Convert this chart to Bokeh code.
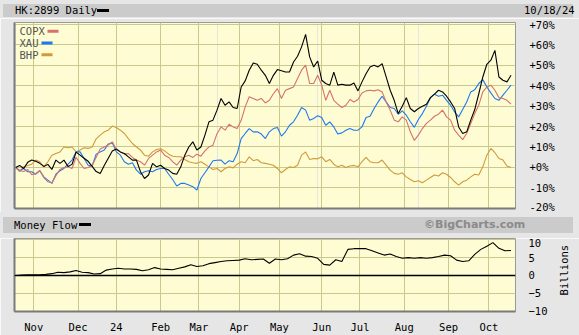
import pandas as pd
import math
from bokeh.plotting import figure
from bokeh.models import (FixedTicker, Range1d, Span, Label, BoxAnnotation, Grid, Div, LinearAxis)
from bokeh.layouts import column
from bokeh.embed import file_html
from bokeh.resources import INLINE

# ---------------- data ----------------
HK_HOLIDAYS = ["2023-10-23", "2023-12-25", "2023-12-26", "2024-01-01", "2024-02-12",
               "2024-02-13", "2024-03-29", "2024-04-01", "2024-04-04", "2024-05-01",
               "2024-05-15", "2024-06-10", "2024-07-01", "2024-09-18", "2024-10-01",
               "2024-10-11"]
START, END = "2023-10-18", "2024-10-18"
MONTH_LABELS = ["Nov", "Dec", "24", "Feb", "Mar", "Apr", "May", "Jun", "Jul", "Aug", "Sep", "Oct"]
PCT_TICKS = [-20, -10, 0, 10, 20, 30, 40, 50, 60, 70]
MF_TICKS = [-10, -5, 0, 5, 10]
MF_UNIT = "Billions"

STEP_MAIN = 2   # one value every 2 trading days
STEP_MF = 3     # one value every 3 trading days

hk2899 = [0, 1, -0.5, 2.5, 3.6, 3, 2, 0.5, 1.5, -1,
          3.6, 2, 3.6, 0.5, 1.5, 7.5, 6, 4.5, 3, 0.5,
          -2, -3, 1, 4.5, 8, 9, 7.6, 6.8, 5.2, 3.6,
          3.6, -2.1, -5.4, -3.7, 2, 0.3, 1.1, -0.5, -1.3, -2.9,
          -3.3, 0.3, 6, 10, 12.5, 8.5, 10, 15.8, 22.3, 23.1,
          28, 33.7, 30.4, 32, 29.3, 28.8, 39.3, 42.3, 47.5, 51,
          50.4, 47.5, 45, 41, 45, 47.8, 47.2, 46.6, 46.6, 51.5,
          54.3, 58.9, 65, 54, 49.1, 52, 42.6, 41, 40.2, 46.6,
          40.2, 40.6, 40.2, 40.2, 41.3, 37.4, 41.8, 45.8, 49.1, 49.9,
          49.1, 50.7, 44.2, 37.7, 32.8, 26.3, 29.9, 34.1, 28.8, 27.2,
          28.8, 29.9, 30.9, 34.1, 35.8, 37.7, 36.9, 34.8, 32, 28.8,
          19.8, 16.6, 17.4, 23.1, 28.3, 36, 44.2, 50.4, 52.4, 57.2,
          44.2, 42.6, 41.8, 45]

copx = [0, -1.5, -2, -1, -3.5, -3, -1.5, -5, -7, -7.5,
        -4, -1, 0, 0.3, -0.5, 5, 2, -0.5, 0, 1,
        5, 9, 10, 11, 12.5, 8.8, 7.6, 6.5, 6.8, 4.9,
        3.6, 2.8, 1.1, 4.4, 6, 7.6, 8.5, 6, 4.9, 2.8,
        1.1, 3.6, 5.2, 6, 4.9, 6.5, 5.5, 8.1, 10, 10.9,
        16.5, 19.8, 18.2, 21.1, 19.8, 19, 23, 29.6, 34.5, 33.7,
        32.8, 33.7, 31.5, 32.8, 36, 38.5, 33.7, 37.7, 38.5, 39.3,
        43.4, 47.5, 50, 41, 41, 45, 40.2, 32.8, 37.7, 32.8,
        30.9, 29.3, 30.4, 33.2, 32, 33.2, 36.4, 37.4, 37.7, 37.4,
        38, 36.9, 32, 28, 23.1, 22.3, 24.7, 23.1, 17.4, 13.2,
        15.8, 19, 21.5, 23.1, 25, 26, 28, 24.7, 23.1, 18.2,
        15.8, 13.6, 16.6, 21.5, 26.3, 30.4, 36.9, 39.3, 40.2, 37.7,
        34.1, 33.7, 32.8, 30.9]

xau = [0, -1.6, -0.5, -2.1, -2.1, -3.3, -1.6, -4.6, -6.2, -7.8,
       -3.3, -1.6, -0.5, 1.6, 3.6, 7.6, 7.6, 4.4, 1.1, 0.7,
       6.5, 7.6, 8.5, 11.4, 12, 7.6, 6, 2.8, 1.6, 2.3,
       -1.3, -3.3, -2.1, -1.6, -2.1, -1, -0.5, -0.5, -3.3, -5.9,
       -9.1, -7.8, -7.8, -8.6, -9.4, -11.1, -5.4, -2.6, 0.3, 3.3,
       3.5, 3.6, 1.6, 3.3, 2.8, 6.8, 14.1, 16.6, 19, 17.4,
       17.4, 16.3, 14.1, 17.4, 19, 19.5, 15.3, 17.4, 20.6, 22.3,
       25.5, 29.3, 28, 23.1, 23.9, 25.3, 24.4, 20.6, 22.3, 19.8,
       16.3, 16.9, 18.2, 19, 18.2, 18.2, 19.8, 24.4, 25, 28.8,
       32, 34.8, 32, 29.3, 28.8, 26, 27.6, 25.5, 22.3, 19.6,
       23.4, 26.3, 29.9, 34.1, 35.8, 34.8, 35.3, 32.8, 30.4, 27.1,
       24.7, 28.3, 32, 36.9, 38, 41, 42.9, 39.3, 36.4, 33.7,
       32.8, 35.3, 37.7, 40.2]

bhp = [0, -2, 0.3, 1, 1.6, 3.6, 2.8, 0.3, 2.8, 6,
       6.8, 7.6, 10, 9.6, 10, 7.6, 8.5, 9.6, 9.3, 10,
       14, 15.8, 17.4, 18.2, 20.2, 19.5, 18.2, 16.6, 14.1, 11.7,
       10, 8.5, 6, 5.5, 7.6, 8.8, 9.1, 8.1, 6.5, 5.5,
       5.2, 5.2, 3.9, 2.8, 2.3, 2, 2.8, 1.6, 0.3, -1,
       -0.5, -2.1, -0.5, 0.3, -0.2, 1.6, 2.8, 2.3, 5.2, 3.3,
       3.9, 2.3, 2, 1.6, 1.1, -0.5, -2.6, -1, 0.3, 0,
       1.1, 6, 7.6, 3.9, 4.4, 4.2, 5.2, 2.8, 3.9, 1.6,
       0.3, 1.1, 0, 0.7, 1, 0.3, 2.8, 4.9, 2.8, 2.3,
       2.3, 3.6, 1.1, -1.3, -2.9, -3.3, -2.6, -4.6, -5.9, -7,
       -6.5, -7.5, -6.2, -4.9, -3.7, -4.2, -2.6, -3.3, -4.9, -7,
       -8.6, -7, -6.2, -4.6, -3.3, -3.7, 0.3, 6, 9.3, 7.2,
       4.4, 3.6, 0.7, 0]

money_flow = [0, 0.1, 0.2, 0.2, 0.2, 0.3, 0.5, 0.9, 0.8, 1.0,
              1.4, 0.9, 0.8, 0.4, 0.5, 1.5, 1.8, 2.0, 1.8, 1.8,
              1.7, 1.3, 1.6, 2.2, 1.8, 1.7, 1.6, 2.0, 2.4, 3.0,
              2.5, 2.7, 3.3, 3.6, 3.9, 4.1, 4.2, 4.3, 4.7, 4.4,
              4.5, 4.6, 3.4, 4.6, 4.4, 4.7, 5.7, 6.1, 5.4, 5.3,
              4.8, 3.1, 2.9, 4.4, 3.9, 7.3, 7.5, 7.5, 7.5, 6.9,
              6.3, 5.7, 6.0, 5.3, 4.8, 5.0, 4.8, 5.0, 4.8, 5.0,
              5.3, 5.7, 5.5, 4.3, 3.9, 4.1, 5.9, 7.3, 8.2, 9.2,
              7.6, 6.9, 7.0]

# ---------------- trading calendar / ticks ----------------
days = pd.bdate_range(START, END, freq="C", holidays=HK_HOLIDAYS)
first_idx = {}
for i, d in enumerate(days):
    first_idx.setdefault((d.year, d.month), i)
month_ticks = [first_idx[k] for k in sorted(first_idx)][1:]
month_over = {t: lab for t, lab in zip(month_ticks, MONTH_LABELS)}

x_main = list(range(0, STEP_MAIN * len(hk2899), STEP_MAIN))
x_mf = list(range(0, STEP_MF * len(money_flow), STEP_MF))

# ---------------- style ----------------
W = 579
MONO = "DejaVu Sans Mono"
OUTER = "#e6e6e6"
BAND = "#cbcbcb"
PLOT_BG = "#fdfcd3"
GRID = "#cac88f"
EDGE = "#7a7a7a"
C_COPX = "#d6726c"
C_XAU = "#1e78f0"
C_BHP = "#d09a3a"

x_range = Range1d(-0.565, len(days) + 1.23)

TXT = "position:absolute;font-family:'DejaVu Sans Mono';font-size:10.5px;color:#000;white-space:nowrap;"


def header(h, band_top, band_h, items):
    inner = "".join(items)
    html = (f"<div style=\"position:relative;width:{W}px;height:{h}px;background:{OUTER};overflow:hidden;margin:0;padding:0;\">"
            f"<div style=\"position:absolute;left:3px;top:{band_top}px;width:570px;height:{band_h}px;background:{BAND};\"></div>"
            f"{inner}</div>")
    return Div(text=html, width=W, height=h, margin=0)


def edge_axis(fig, side):
    ax = LinearAxis(ticker=FixedTicker(ticks=[]), axis_line_color=EDGE, axis_line_width=2,
                    major_tick_line_color=None, minor_tick_line_color=None,
                    major_label_text_font_size="0px", major_label_standoff=0)
    fig.add_layout(ax, side)
    return ax


hdr1 = header(18, 4, 13, [
    f"<span style=\"{TXT}left:15px;top:4px;height:13px;line-height:13px;\">HK:2899 Daily</span>",
    "<div style=\"position:absolute;left:97px;top:9px;width:12px;height:3px;background:#000;\"></div>",
    f"<span style=\"{TXT}left:524px;top:4px;height:13px;line-height:13px;\">10/18/24</span>",
])

hdr2 = header(26, 5, 16, [
    f"<span style=\"{TXT}left:14px;top:5px;height:16px;line-height:16px;\">Money Flow</span>",
    "<div style=\"position:absolute;left:79px;top:11px;width:12px;height:3px;background:#000;\"></div>",
    "<span style=\"position:absolute;left:424px;top:5px;height:16px;line-height:16px;"
    "font-family:'DejaVu Sans';font-weight:bold;font-size:11px;color:#8a8a8a;white-space:nowrap;\">©BigCharts.com</span>",
])

# main chart
main = figure(width=W, height=194, title=None, toolbar_location=None, output_backend="svg",
              x_range=x_range, y_range=Range1d(-20.05, 70.8),
              x_axis_location=None, y_axis_location="right",
              min_border_left=14, min_border_right=63, min_border_top=4, min_border_bottom=4)
main.background_fill_color = PLOT_BG
main.border_fill_color = OUTER
main.outline_line_color = "#9a9a9a"
ya = main.yaxis[0]
ya.ticker = FixedTicker(ticks=PCT_TICKS)
ya.major_label_overrides = {t: (f"+{t}%" if t >= 0 else f"{t}%") for t in PCT_TICKS}
ya.major_label_text_font = MONO
ya.major_label_text_font_size = "10.5px"
ya.major_label_text_color = "black"
ya.major_label_standoff = 8
ya.major_tick_line_color = None
ya.minor_tick_line_color = None
ya.axis_line_color = None
main.ygrid.ticker = FixedTicker(ticks=PCT_TICKS)
main.ygrid.grid_line_color = GRID
main.add_layout(Grid(dimension=0, ticker=FixedTicker(ticks=month_ticks), grid_line_color=GRID))
edge_axis(main, "below")
edge_axis(main, "left")

main.line(x_main, bhp, line_color=C_BHP, line_width=1.1)
main.line(x_main, xau, line_color=C_XAU, line_width=1.1)
main.line(x_main, copx, line_color=C_COPX, line_width=1.1)
main.line(x_main, hk2899, line_color="black", line_width=1.1)

LEG = [("COPX", C_COPX, 177.3, 33), ("XAU", C_XAU, 165.5, 27), ("BHP", C_BHP, 153.7, 27)]
for name, col, yy, sx in LEG:
    main.add_layout(Label(x=5, y=yy, x_units="screen", y_units="screen", text=name,
                          text_font=MONO, text_font_size="10.5px", text_color="#555555",
                          text_baseline="middle"))
    main.add_layout(BoxAnnotation(left=sx, right=sx + 11, bottom=yy - 1.5, top=yy + 1.5,
                                  left_units="screen", right_units="screen",
                                  bottom_units="screen", top_units="screen",
                                  fill_color=col, fill_alpha=1, line_color=None))

# money flow chart
mf = figure(width=W, height=97, title=None, toolbar_location=None, output_backend="svg",
            x_range=x_range, y_range=Range1d(-10.1, 10.35),
            x_axis_location="below", y_axis_location="right",
            min_border_left=14, min_border_right=63, min_border_top=0, min_border_bottom=18)
mf.background_fill_color = PLOT_BG
mf.border_fill_color = OUTER
mf.outline_line_color = "#9a9a9a"
xa = mf.xaxis[0]
xa.ticker = FixedTicker(ticks=month_ticks)
xa.major_label_overrides = month_over
xa.major_label_text_font = MONO
xa.major_label_text_font_size = "10.5px"
xa.major_label_text_color = "black"
xa.major_label_standoff = 3
xa.major_tick_line_color = None
xa.minor_tick_line_color = None
xa.axis_line_color = EDGE
xa.axis_line_width = 2
ya2 = mf.yaxis[0]
ya2.ticker = FixedTicker(ticks=MF_TICKS)
ya2.major_label_text_font = MONO
ya2.major_label_text_font_size = "10.5px"
ya2.major_label_text_color = "black"
ya2.major_label_standoff = 7
ya2.major_tick_line_color = None
ya2.minor_tick_line_color = None
ya2.axis_line_color = None
edge_axis(mf, "left")

# unit caption on the right, reading bottom-to-top
unit_pos = -5.6
unit_ax = LinearAxis(ticker=FixedTicker(ticks=[unit_pos]), major_label_overrides={unit_pos: MF_UNIT},
                     major_label_orientation=math.pi / 2, major_label_text_font=MONO,
                     major_label_text_font_size="10.5px", major_label_text_color="black",
                     major_label_standoff=8, major_tick_line_color=None,
                     minor_tick_line_color=None, axis_line_color=None)
mf.add_layout(unit_ax, "right")

mf.xgrid.ticker = FixedTicker(ticks=month_ticks)
mf.ygrid.ticker = FixedTicker(ticks=MF_TICKS)
mf.xgrid.grid_line_color = GRID
mf.ygrid.grid_line_color = GRID
mf.add_layout(Span(location=0, dimension="width", line_color="black", line_width=1.5))
mf.line(x_mf, money_flow, line_color="black", line_width=1.1)

page = column(hdr1, main, hdr2, mf, spacing=0)
open("out.html", "w").write(file_html(page, INLINE))
